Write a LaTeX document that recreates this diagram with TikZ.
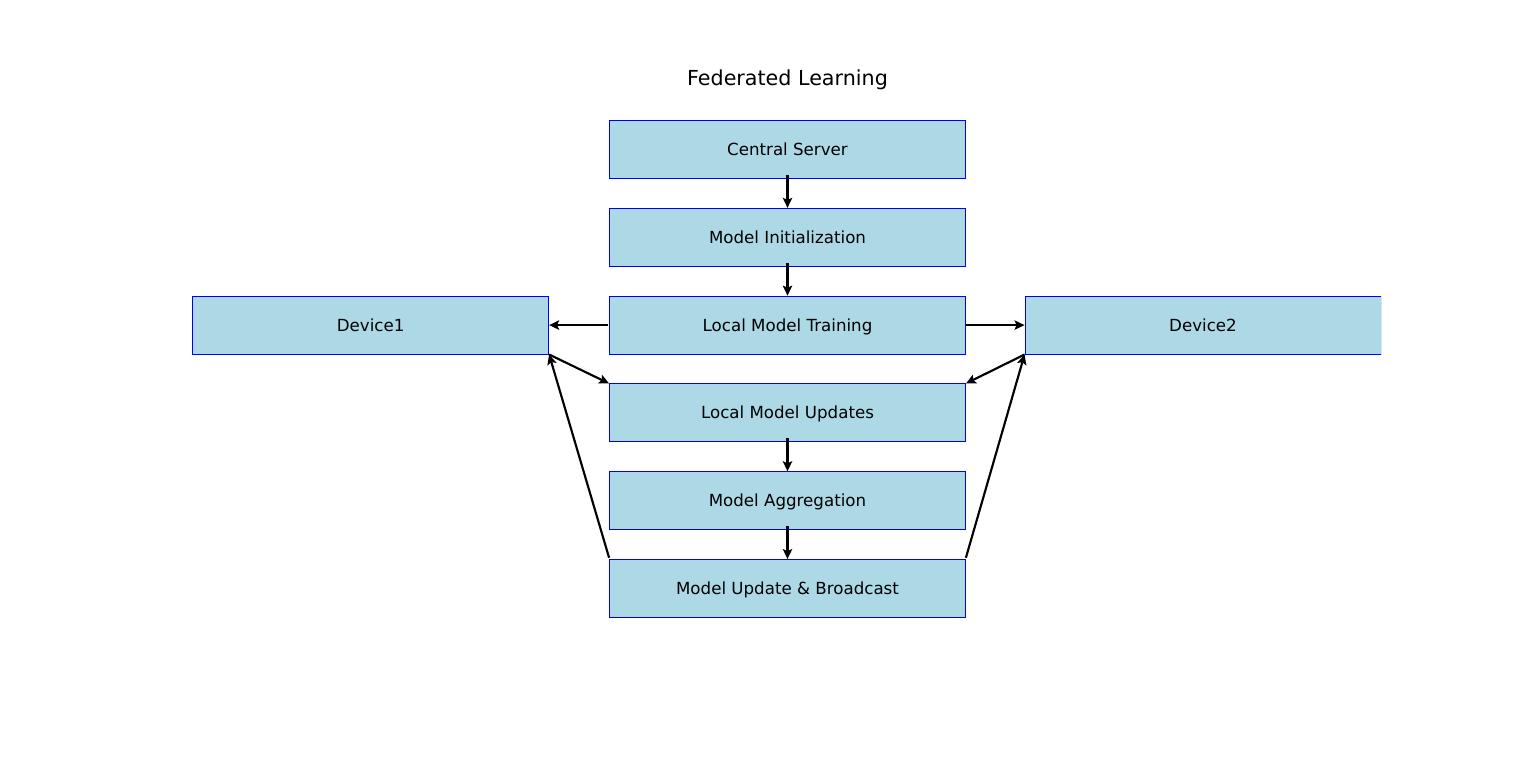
\documentclass[tikz,border=0pt]{standalone}
\usepackage{fontspec}
\setmainfont{DejaVu Sans}
\usetikzlibrary{positioning, arrows.meta}
\definecolor{boxfill}{HTML}{ADD8E6}
\tikzset{
    node distance=21.75pt and 45pt, % gap between boxes
    stage/.style={ % every box of the scheme
        rectangle,
        draw=blue,
        line width=0.6pt,
        fill=boxfill,
        minimum width=267pt,
        minimum height=43.5pt,
        inner sep=0pt,
        text height=2ex,
        text depth=0.35ex,
        font=\fontsize{12.5}{15}\selectfont
    },
    flow/.style={ % every arrow
        draw,
        -{Stealth[length=7.5pt,width=7pt,inset=1.5pt]},
        line width=1.6pt
    }
}
\begin{document}
\begin{tikzpicture}[x=0.75pt, y=-0.75pt]
            \useasboundingbox (0,0) rectangle (1536,762);
            \node[font=\fontsize{15.5}{18}\selectfont] (title) at (787.5,80) {Federated Learning};
            \node[stage] (server)   at (787.5,149.5)    {Central Server};
            \node[stage, below=of server]   (init)      {Model Initialization};
            \node[stage, below=of init]     (train)     {Local Model Training};
            \node[stage, below=of train]    (updates)   {Local Model Updates};
            \node[stage, below=of updates]  (aggr)      {Model Aggregation};
            \node[stage, below=of aggr]     (bcast)     {Model Update \& Broadcast};
            \node[stage, left=of train]     (dev1)      {Device1};
            \begin{scope}
                \clip (0,0) rectangle (1381,762);
                \node[stage, right=44pt of train] (dev2) {Device2};
            \end{scope}
            \draw[flow] ([yshift=3pt]server.south)  -- (init.north);
            \draw[flow] ([yshift=3pt]init.south)    -- (train.north);
            \draw[flow] ([yshift=3pt]updates.south) -- (aggr.north);
            \draw[flow] ([yshift=3pt]aggr.south)    -- (bcast.north);
            \draw[flow] ([xshift=-1pt]train.west)   -- (dev1.east);
            \draw[flow] (train.east)                -- (dev2.west);
            \draw[flow] (dev1.south east)           -- (updates.north west);
            \draw[flow] (dev2.south west)           -- (updates.north east);
            \draw[flow] ([yshift=1pt]bcast.north west) -- (dev1.south east);
            \draw[flow] ([yshift=1pt]bcast.north east) -- (dev2.south west);
\end{tikzpicture}
\end{document}
